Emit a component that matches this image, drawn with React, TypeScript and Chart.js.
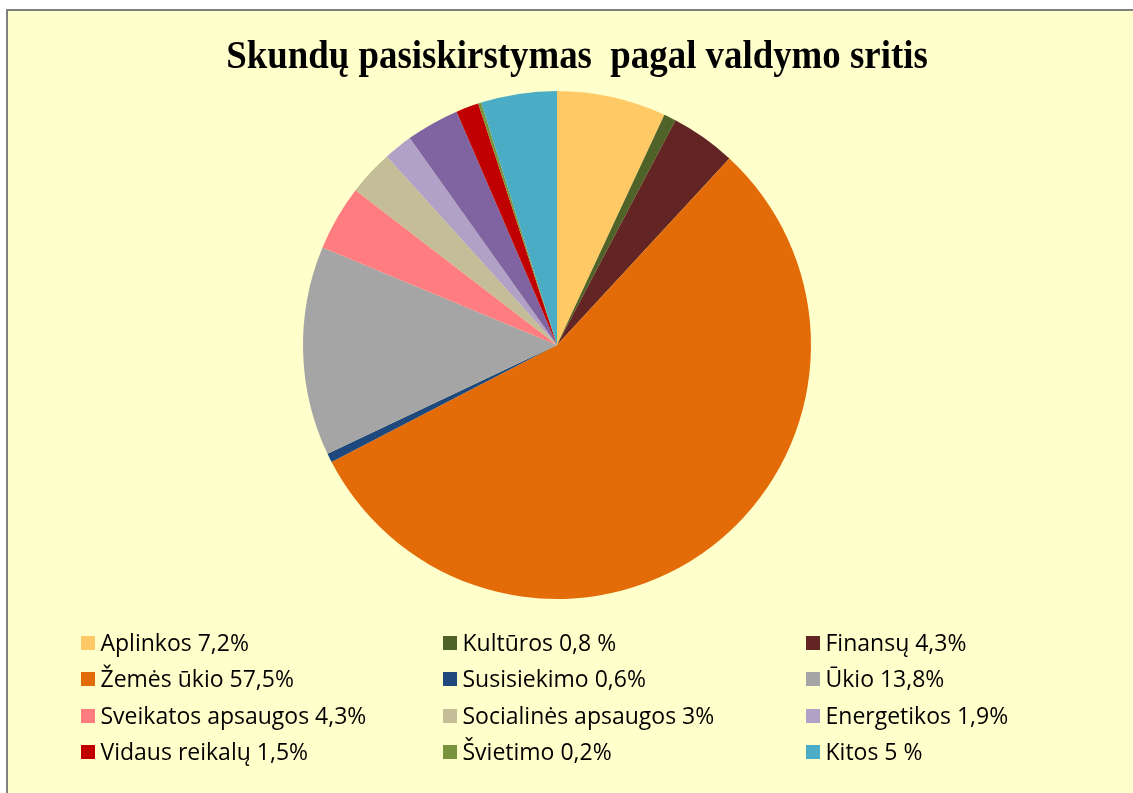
import React, { useEffect, useRef } from "react";
import { Chart, registerables } from "chart.js";

Chart.register(...registerables);

const titleText = "Skundų pasiskirstymas  pagal valdymo sritis";

const categories = [
  "Aplinkos 7,2%",
  "Kultūros 0,8 %",
  "Finansų 4,3%",
  "Žemės ūkio 57,5%",
  "Susisiekimo 0,6%",
  "Ūkio 13,8%",
  "Sveikatos apsaugos 4,3%",
  "Socialinės apsaugos 3%",
  "Energetikos 1,9%",
  "",
  "Vidaus reikalų 1,5%",
  "Švietimo 0,2%",
  "Kitos 5 %",
];

const values = [7.2, 0.8, 4.3, 57.5, 0.6, 13.8, 4.3, 3, 1.9, 3.5, 1.5, 0.2, 5];

const colors = [
  "#FFC966",
  "#4F6228",
  "#632523",
  "#E36C09",
  "#1F497D",
  "#A5A5A5",
  "#FF7C80",
  "#C4BD97",
  "#B2A1C7",
  "#8064A2",
  "#C00000",
  "#77933C",
  "#4BACC6",
];

const CANVAS_W = 1125;
const CANVAS_H = 782;

const customText = {
  id: "customText",
  afterDraw(chart: any) {
    const ctx = chart.ctx as CanvasRenderingContext2D;
    ctx.save();
    // title (slightly condensed, like the original)
    ctx.fillStyle = "#000000";
    ctx.font = "bold 39px 'Liberation Serif', 'Times New Roman', serif";
    ctx.textAlign = "center";
    ctx.textBaseline = "alphabetic";
    ctx.save();
    ctx.translate(569, 57);
    ctx.scale(0.945, 1);
    ctx.fillText(titleText, 0, 0);
    ctx.restore();

    // legend grid: 3 columns
    const labels: string[] = chart.data.labels;
    const bg: string[] = chart.data.datasets[0].backgroundColor;
    const colX = [72.5, 434.5, 797.5];
    const rowY = [631.5, 668, 704.5, 740.5];
    ctx.font = "23px 'Open Sans', sans-serif";
    ctx.textAlign = "left";
    ctx.textBaseline = "alphabetic";
    let k = 0;
    labels.forEach((lab, i) => {
      if (!lab) return;
      const c = k % 3;
      const r = Math.floor(k / 3);
      k++;
      const x = colX[c];
      const y = rowY[r];
      ctx.fillStyle = bg[i];
      ctx.fillRect(Math.round(x), Math.round(y - 7), 14, 14);
      ctx.fillStyle = "#000000";
      ctx.fillText(lab, x + 20, y + 8);
    });
    ctx.restore();
  },
};

export default function App() {
  const ref = useRef<HTMLCanvasElement | null>(null);

  useEffect(() => {
    if (!ref.current) return;
    const chart = new Chart(ref.current, {
      type: "pie",
      data: {
        labels: categories,
        datasets: [
          {
            data: values,
            backgroundColor: colors,
            borderWidth: 0,
          },
        ],
      },
      options: {
        responsive: false,
        animation: false,
        layout: { padding: { top: 80, bottom: 194, left: 0, right: 27 } },
        plugins: {
          legend: { display: false },
          title: { display: false },
          tooltip: { enabled: false },
        },
      },
      plugins: [customText],
    });
    return () => chart.destroy();
  }, []);

  return (
    <div
      style={{
        position: "fixed",
        left: 6,
        top: 9,
        width: 1127,
        height: 784,
        boxSizing: "border-box",
        borderLeft: "2px solid #808080",
        borderTop: "2px solid #808080",
        background: "#FFFFCC",
        overflow: "hidden",
      }}
    >
      <canvas
        ref={ref}
        width={CANVAS_W}
        height={CANVAS_H}
        style={{ display: "block", width: CANVAS_W, height: CANVAS_H }}
      />
    </div>
  );
}
